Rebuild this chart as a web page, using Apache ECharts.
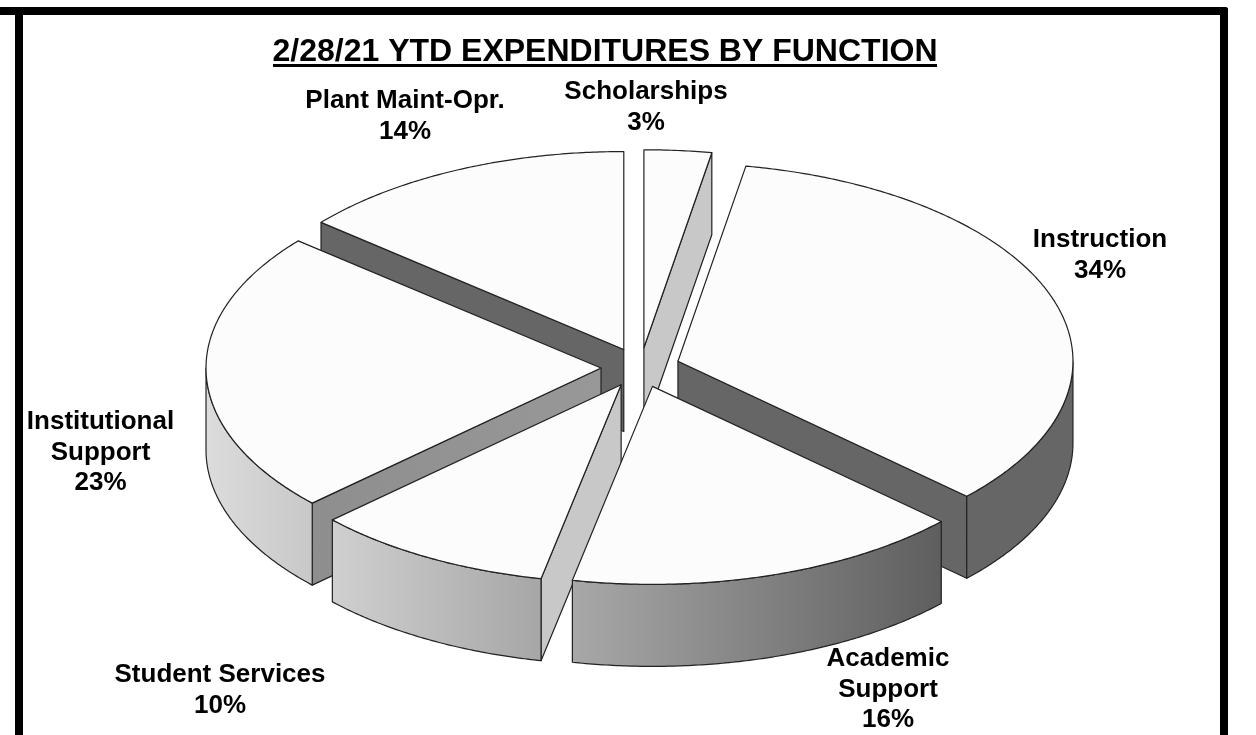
<!DOCTYPE html>
<html><head><meta charset="utf-8">
<style>html,body{margin:0;padding:0;background:#fff}#c{width:1256px;height:735px}</style>
<script src="https://cdn.jsdelivr.net/npm/echarts@6/dist/echarts.min.js"></script>
</head><body><div id="c"></div>
<script>
// Data, clockwise from 12 o'clock (read from the slice boundaries; labels show rounded percent)
const categories = ['Scholarships','Instruction','Academic\nSupport','Student Services','Institutional\nSupport','Plant Maint-Opr.'];
const shares = [2.75,34.2,16.3,9.8,23.05,13.9];
const chartTitle = '2/28/21 YTD EXPENDITURES BY FUNCTION';

// Layout / style
const CX=640.5, CY=367.5, RX=395, RY=198, DEPTH=82, EXPLODE=39.5;
const FONT='"Liberation Sans",Arial,sans-serif';
const labelCenters=[[646,107.5],[1100,255.5],[888,689.5],[220,690.5],[100.5,452.5],[405,116.5]];
const wallFill=[['#c8c8c8','#c8c8c8'],['#666666','#666666'],['#666666','#666666'],['#c8c8c8','#c8c8c8'],['#8e8e8e','#989898'],['#666666','#666666']];
const rimFill=[['#ccc','#ccc'],['#666666','#666666'],['#a8a8a8','#5e5e5e'],['#d0d0d0','#a6a6a6'],['#dcdcdc','#c8c8c8'],['#666','#666']];

const total=shares.reduce((a,b)=>a+b,0);
let run=0;
const slices=shares.map((v,i)=>{const s=run/total*360;run+=v;const e=run/total*360;return {i,v,s,e};});
const rad=d=>d*Math.PI/180;
slices.forEach(sl=>{const m=rad((sl.s+sl.e)/2);
  sl.ox=EXPLODE*Math.sin(m); sl.oy=-EXPLODE*(RY/RX)*Math.cos(m);});
// paint back to front
const order=slices.slice().sort((a,b)=>(a.oy-b.oy));
const seriesData=order.map(sl=>({name:categories[sl.i],value:[sl.v,sl.i]}));

function rimPt(sl,d,h){return [CX+sl.ox+RX*Math.sin(rad(d)),CY+sl.oy-RY*Math.cos(rad(d))+h];}
function arc(sl,a,b,h){const pts=[];const n=Math.max(2,Math.ceil(Math.abs(b-a)*2));
  for(let k=0;k<=n;k++)pts.push(rimPt(sl,a+(b-a)*k/n,h));return pts;}
function grad(c){return new echarts.graphic.LinearGradient(0,0,1,0,[{offset:0,color:c[0]},{offset:1,color:c[1]}]);}
const edge={stroke:'#222',lineWidth:1.2,lineJoin:'round'};

function renderItem(params,api){
  const sl=slices[api.value(1)];
  const apex=[CX+sl.ox,CY+sl.oy];
  const kids=[];
  const wall=(d)=>{const p=rimPt(sl,d,0),q=rimPt(sl,d,DEPTH);
    kids.push({type:'polygon',shape:{points:[apex,p,q,[apex[0],apex[1]+DEPTH]]},
      style:Object.assign({fill:grad(wallFill[sl.i])},edge)});};
  if(sl.s>180&&sl.s<360) wall(sl.s);
  if(sl.e>0&&sl.e<180) wall(sl.e);
  const a=Math.max(sl.s,90),b=Math.min(sl.e,270);
  if(b>a){
    kids.push({type:'polygon',shape:{points:arc(sl,a,b,0).concat(arc(sl,b,a,DEPTH))},
      style:Object.assign({fill:grad(rimFill[sl.i])},edge)});
  }
  kids.push({type:'polygon',shape:{points:[apex].concat(arc(sl,sl.s,sl.e,0))},
    style:Object.assign({fill:'#fcfcfc'},edge)});
  const c=labelCenters[sl.i];
  kids.push({type:'text',style:{text:categories[sl.i]+'\n'+Math.round(api.value(0))+'%',x:c[0],y:c[1],
    align:'center',verticalAlign:'middle',fill:'#000',font:'bold 26px '+FONT,lineHeight:30.5}});
  return {type:'group',children:kids};
}

const chart=echarts.init(document.getElementById('c'),null,{renderer:'canvas'});
chart.setOption({
  animation:false,
  backgroundColor:'#fff',
  title:{text:chartTitle,left:600,top:31,textAlign:'center',
    textStyle:{fontFamily:FONT,fontWeight:'bold',fontSize:32,color:'#000'}},
  graphic:[
    {type:'rect',shape:{x:0,y:7,width:1228,height:8,r:[0,3,0,0]},style:{fill:'#000'}},
    {type:'rect',shape:{x:15,y:7,width:8,height:728},style:{fill:'#000'}},
    {type:'rect',shape:{x:1220,y:7,width:8,height:728,r:[0,3,0,0]},style:{fill:'#000'}},
    {type:'rect',shape:{x:273,y:64,width:664,height:3},style:{fill:'#000'}}
  ],
  series:[{type:'custom',coordinateSystem:'none',renderItem,data:seriesData,silent:true,clip:false}]
});
</script></body></html>
